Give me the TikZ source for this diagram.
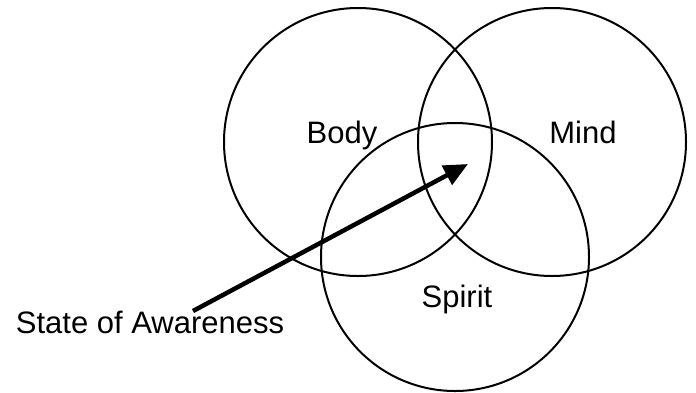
\documentclass[tikz,border=0pt]{standalone}
\usepackage{fontspec}
\setmainfont{Liberation Sans}
\usetikzlibrary{arrows.meta,positioning}
\tikzset{
  ring/.style={
    draw,
    circle,
    line width=2pt,
    minimum size=268pt,
    inner sep=0pt
  },
  tag/.style={
    anchor=base,
    inner sep=0pt,
    font=\fontsize{31}{37}\selectfont
  },
  pointer/.style={
    -{Triangle[length=24pt,width=21pt]},
    line width=4.5pt
  }
}
\begin{document}
\begin{tikzpicture}[x=1pt, y=-1pt]
  \useasboundingbox (0,0) rectangle (696,392);
  \node[ring] (body) at (358,142) {};
  \node[ring] (mind) at (552,142) {};
  \node[ring] (spirit) at (455,257) {};
  \node[tag] (bodylabel) at (342,143) {Body};
  \node[tag] (mindlabel) at (583,143) {Mind};
  \node[tag] (spiritlabel) at (457,307) {Spirit};
  \node[tag] (awareness) at (150,333) {State of Awareness};
  \coordinate (tail) at (193,311);
  \coordinate (core) at (468,164);

  \draw[pointer] (tail) -- (core);
\end{tikzpicture}
\end{document}
